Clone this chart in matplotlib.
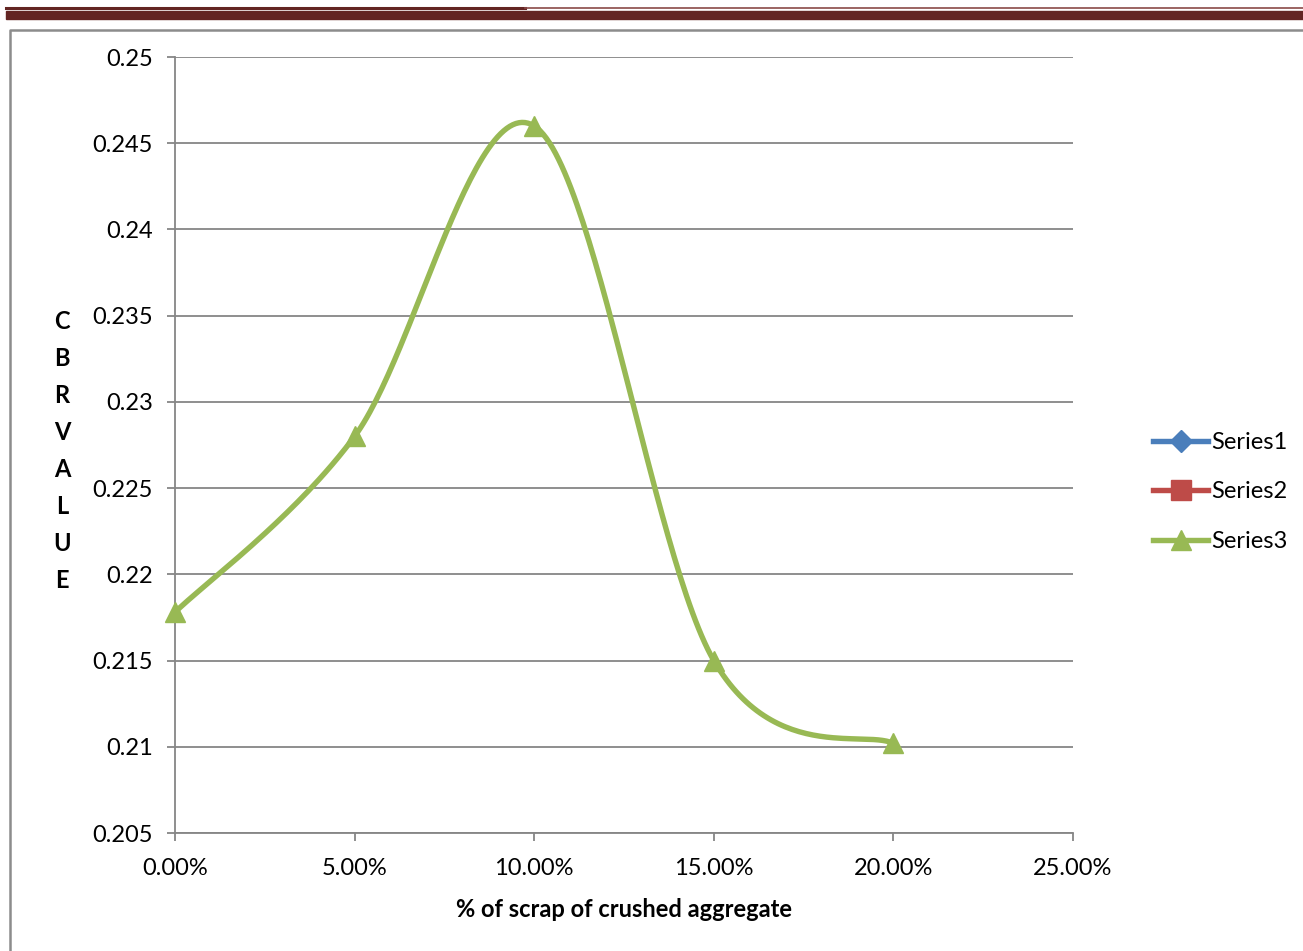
import numpy as np
import matplotlib
matplotlib.use('Agg')
import matplotlib.pyplot as plt
from matplotlib.lines import Line2D
from matplotlib.ticker import FuncFormatter

plt.rcParams['font.family'] = ['Lato', 'DejaVu Sans']

# CBR value against % of scrap of crushed aggregate
scrap_pct = [0.00, 0.05, 0.10, 0.15, 0.20]
cbr_value = [0.2178, 0.2280, 0.2460, 0.2150, 0.2102]
series_names = ['Series1', 'Series2', 'Series3']
series_colors = ['#4a7ebb', '#be4b48', '#98b954']
series_markers = ['D', 's', '^']
y_ticks = [0.205, 0.21, 0.215, 0.22, 0.225, 0.23, 0.235, 0.24, 0.245, 0.25]
x_ticks = [0.0, 0.05, 0.10, 0.15, 0.20, 0.25]


def smooth_curve(x, y, sx, sy, n=60):
    # Catmull-Rom style bezier, worked out in screen-scaled units
    px = np.asarray(x) * sx
    py = np.asarray(y) * sy
    out_x, out_y = [], []
    t = np.linspace(0, 1, n)
    for i in range(len(px) - 1):
        p0 = (px[max(i - 1, 0)], py[max(i - 1, 0)])
        p1 = (px[i], py[i])
        p2 = (px[i + 1], py[i + 1])
        p3 = (px[min(i + 2, len(px) - 1)], py[min(i + 2, len(px) - 1)])
        c1 = (p1[0] + (p2[0] - p0[0]) / 6, p1[1] + (p2[1] - p0[1]) / 6)
        c2 = (p2[0] - (p3[0] - p1[0]) / 6, p2[1] - (p3[1] - p1[1]) / 6)
        bx = (1 - t) ** 3 * p1[0] + 3 * (1 - t) ** 2 * t * c1[0] + 3 * (1 - t) * t ** 2 * c2[0] + t ** 3 * p2[0]
        by = (1 - t) ** 3 * p1[1] + 3 * (1 - t) ** 2 * t * c1[1] + 3 * (1 - t) * t ** 2 * c2[1] + t ** 3 * p2[1]
        out_x.extend(bx / sx)
        out_y.extend(by / sy)
    return np.array(out_x), np.array(out_y)


fig = plt.figure(figsize=(13.03, 9.51), dpi=100)
W, H = 1303, 951
fs = 17

# page header rules
fig.add_artist(Line2D([6 / W, 525 / W], [1 - 7.5 / H] * 2, color='#632523', lw=2.2))
fig.add_artist(Line2D([525 / W, 1.0], [1 - 7.5 / H] * 2, color='#8a4a48', lw=1.2))
fig.add_artist(plt.Rectangle((6 / W, 1 - 19 / H), 1 - 6 / W, 8 / H, color='#632523', transform=fig.transFigure))
# chart area border
fig.add_artist(Line2D([10 / W, 10 / W, 1.0], [0.0, 1 - 29.5 / H, 1 - 29.5 / H], color='#8c8c8c', lw=1.8))

ax = fig.add_axes([175 / W, 1 - 833 / H, 898 / W, 776 / H])
ax.set_xlim(0, 0.25)
ax.set_ylim(0.205, 0.25)
ax.set_yticks(y_ticks)
ax.set_xticks(x_ticks)
ax.yaxis.set_major_formatter(FuncFormatter(lambda v, p: ('%.3f' % v).rstrip('0')))
ax.xaxis.set_major_formatter(FuncFormatter(lambda v, p: '%.2f%%' % (v * 100)))
ax.grid(axis='y', color='#868686', lw=1.3)
ax.set_axisbelow(True)
for side in ['top', 'right']:
    ax.spines[side].set_visible(False)
for side in ['left', 'bottom']:
    ax.spines[side].set_color('#868686')
    ax.spines[side].set_linewidth(1.3)
ax.tick_params(axis='both', direction='out', length=6, width=1.3, color='#868686',
               labelsize=fs, labelcolor='black')
ax.tick_params(axis='y', pad=10)
ax.tick_params(axis='x', pad=12)

cx, cy = smooth_curve(scrap_pct, cbr_value, 898 / 0.25, 776 / 0.045)
ax.plot(cx, cy, color=series_colors[2], lw=3.9, solid_capstyle='round', zorder=3)
ax.plot(scrap_pct, cbr_value, ls='none', marker='^', ms=14, color=series_colors[2],
        clip_on=False, zorder=4)

ax.set_xlabel('% of scrap of crushed aggregate', fontsize=fs, fontweight='bold', labelpad=14)
fig.text(62 / W, 1 - 451 / H, '\n'.join('CBRVALUE'), ha='center', va='center',
         fontsize=fs, fontweight='bold', linespacing=1.74)

handles = [Line2D([], [], color=c, marker=m, lw=3.9, ms=14 if m != 'D' else 11)
           for c, m in zip(series_colors, series_markers)]
fig.legend(handles, series_names, loc='center left', bbox_to_anchor=(1153 / W, 1 - 492 / H),
           frameon=False, fontsize=fs, handlelength=2.35, handletextpad=0.1,
           labelspacing=1.2, borderpad=0, borderaxespad=0)

fig.savefig('out.png', dpi=100)
